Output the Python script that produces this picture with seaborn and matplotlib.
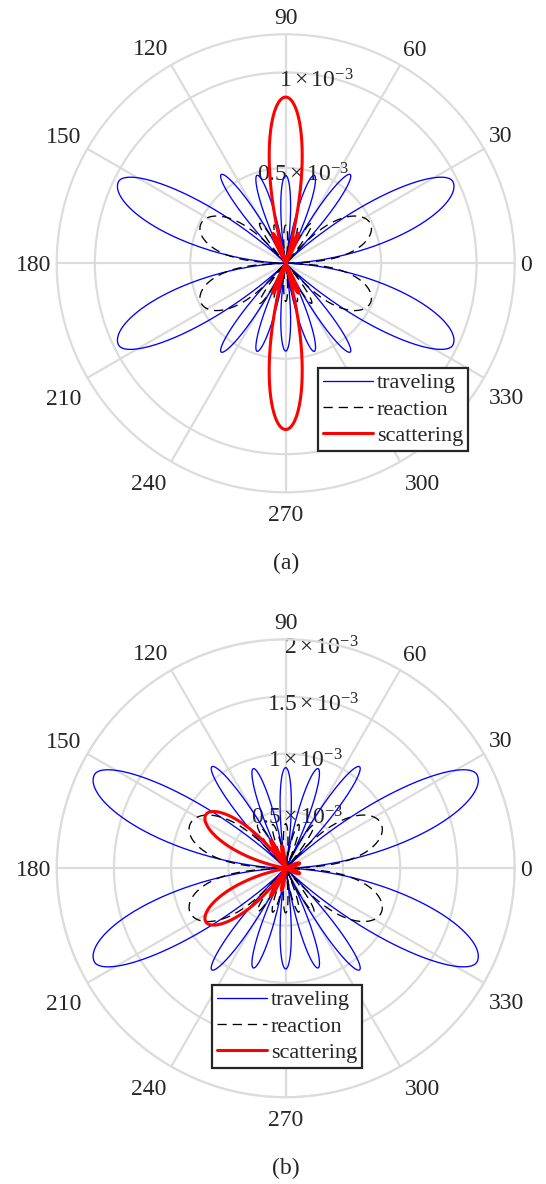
import numpy as np
import matplotlib
matplotlib.use("Agg")
import matplotlib.pyplot as plt
import seaborn as sns
from matplotlib.transforms import offset_copy

# ---------------- data (radius in units of 1e-3) ----------------
# each lobe: peak direction (deg), peak value, span from lower null to peak (deg),
# span from peak to upper null (deg), sharpness of the lobe
# panel (a)
TRAV_A_DEG  = [26, 54, 72, 90, 108, 126, 154, 206, 234, 252, 270, 288, 306, 334]
TRAV_A_PEAK = [0.975, 0.575, 0.485, 0.46, 0.485, 0.575, 0.975,
               0.975, 0.575, 0.485, 0.46, 0.485, 0.575, 0.975]
TRAV_A_LO   = [26, 9, 9, 9, 9, 9, 19, 26, 9, 9, 9, 9, 9, 19]
TRAV_A_HI   = [19, 9, 9, 9, 9, 9, 26, 19, 9, 9, 9, 9, 9, 26]
TRAV_A_K    = [1.5, 1, 1, 1, 1, 1, 1.5, 1.5, 1, 1, 1, 1, 1, 1.5]

REAC_A_DEG  = [25, 57, 73.5, 90, 106.5, 123, 155, 205, 237, 253.5, 270, 286.5, 303, 335]
REAC_A_PEAK = [0.49, 0.25, 0.21, 0.20, 0.21, 0.25, 0.49,
               0.49, 0.25, 0.21, 0.20, 0.21, 0.25, 0.49]
REAC_A_LO   = [23, 8.25, 8.25, 8.25, 8.25, 8.25, 23, 23, 8.25, 8.25, 8.25, 8.25, 8.25, 23]
REAC_A_HI   = [23, 8.25, 8.25, 8.25, 8.25, 8.25, 23, 23, 8.25, 8.25, 8.25, 8.25, 8.25, 23]
REAC_A_K    = [0.5, 1, 1, 1, 1, 1, 0.5, 0.5, 1, 1, 1, 1, 1, 0.5]

SCAT_A_DEG  = [67, 90, 113, 247, 270, 293]
SCAT_A_PEAK = [0.17, 0.871, 0.17, 0.17, 0.871, 0.17]
SCAT_A_LO   = [6, 16, 6, 6, 16, 6]
SCAT_A_HI   = [6, 16, 6, 6, 16, 6]
SCAT_A_K    = [1, 1, 1, 1, 1, 1]

# panel (b)
TRAV_B_DEG  = [26, 54, 72, 90, 108, 126, 154, 206, 234, 252, 270, 288, 306, 334]
TRAV_B_PEAK = [1.86, 1.097, 0.915, 0.879, 0.915, 1.097, 1.86,
               1.86, 1.097, 0.915, 0.879, 0.915, 1.097, 1.86]
TRAV_B_LO   = [26, 9, 9, 9, 9, 9, 19, 26, 9, 9, 9, 9, 9, 19]
TRAV_B_HI   = [19, 9, 9, 9, 9, 9, 26, 19, 9, 9, 9, 9, 9, 26]
TRAV_B_K    = [1.5, 1, 1, 1, 1, 1, 1.5, 1.5, 1, 1, 1, 1, 1, 1.5]

REAC_B_DEG  = [25, 57, 73.5, 90, 106.5, 123, 155, 205, 237, 253.5, 270, 286.5, 303, 335]
REAC_B_PEAK = [0.92, 0.45, 0.40, 0.39, 0.40, 0.45, 0.92,
               0.92, 0.45, 0.40, 0.39, 0.40, 0.45, 0.92]
REAC_B_LO   = [23, 8.25, 8.25, 8.25, 8.25, 8.25, 23, 23, 8.25, 8.25, 8.25, 8.25, 8.25, 23]
REAC_B_HI   = [23, 8.25, 8.25, 8.25, 8.25, 8.25, 23, 23, 8.25, 8.25, 8.25, 8.25, 8.25, 23]
REAC_B_K    = [0.5, 1, 1, 1, 1, 1, 0.5, 0.5, 1, 1, 1, 1, 1, 0.5]

SCAT_B_DEG  = [20, 100, 118, 146, 214, 242, 260, 340]
SCAT_B_PEAK = [0.13, 0.20, 0.28, 0.84, 0.84, 0.28, 0.20, 0.13]
SCAT_B_LO   = [12, 6, 6, 22, 23, 6, 6, 12]
SCAT_B_HI   = [12, 6, 6, 23, 22, 6, 6, 12]
SCAT_B_K    = [1, 1, 1, 1, 1, 1, 1, 1]

RMAX = [1.2, 2.0]
RTICKS = [[0.5, 1.0], [0.5, 1.0, 1.5, 2.0]]
RTICK_LABELS = [[r"$0.5\times10^{-3}$", r"$1\times10^{-3}$"],
                [r"$0.5\times10^{-3}$", r"$1\times10^{-3}$",
                 r"$1.5\times10^{-3}$", r"$2\times10^{-3}$"]]
ANGLE_LABELS = ["0", "30", "60", "90", "120", "150",
                "180", "210", "240", "270", "300", "330"]
SERIES_NAMES = ["traveling", "reaction", "scattering"]
CAPTIONS = ["(a)", "(b)"]

# ---------------- style ----------------
sns.set_theme(style="white")
plt.rcParams["font.family"] = ["Liberation Serif", "DejaVu Serif"]
plt.rcParams["mathtext.fontset"] = "custom"
plt.rcParams["mathtext.rm"] = "Liberation Serif"
plt.rcParams["mathtext.it"] = "Liberation Serif:italic"
plt.rcParams["mathtext.bf"] = "Liberation Serif:bold"

TXT = "#262626"
GRID = "#dcdcdc"
FS = 17
FS_LEG = 16

# label placement around the rim: (direction deg, radius factor of rmax)
LABEL_POS = [(0, 1.048), (31, 1.095), (59, 1.098), (90, 1.079), (122, 1.113),
             (150, 1.118), (180, 1.103), (211, 1.13), (238, 1.128), (270, 1.092),
             (302, 1.125), (329, 1.125)]

theta_deg = np.linspace(0.0, 360.0, 7201)


def lobes(deg, peak, lo, hi, k):
    r = np.zeros_like(theta_deg)
    for c, a, wl, wh, kk in zip(deg, peak, lo, hi, k):
        d = theta_deg - c
        m1 = (d >= -wl) & (d <= 0)
        m2 = (d > 0) & (d <= wh)
        r[m1] += a * np.sin(np.pi / 2 * (d[m1] + wl) / wl) ** kk
        r[m2] += a * np.sin(np.pi / 2 * (wh - d[m2]) / wh) ** kk
    return r * 1e-3


panels = [
    [(TRAV_A_DEG, TRAV_A_PEAK, TRAV_A_LO, TRAV_A_HI, TRAV_A_K),
     (REAC_A_DEG, REAC_A_PEAK, REAC_A_LO, REAC_A_HI, REAC_A_K),
     (SCAT_A_DEG, SCAT_A_PEAK, SCAT_A_LO, SCAT_A_HI, SCAT_A_K)],
    [(TRAV_B_DEG, TRAV_B_PEAK, TRAV_B_LO, TRAV_B_HI, TRAV_B_K),
     (REAC_B_DEG, REAC_B_PEAK, REAC_B_LO, REAC_B_HI, REAC_B_K),
     (SCAT_B_DEG, SCAT_B_PEAK, SCAT_B_LO, SCAT_B_HI, SCAT_B_K)],
]

W, H = 546, 1184
fig = plt.figure(figsize=(W / 100, H / 100), dpi=100, facecolor="white")

centers = [(285.7, 263.3), (285.7, 868.3)]
R_PX = 229.0
legend_ul = [(318, 368), (212, 985)]
caption_y = [561, 1166]

styles = [dict(color="#0000ff", lw=0.95, linestyle="-"),
          dict(color="black", lw=0.95, linestyle=(0, (7.0, 4.5))),
          dict(color="#ff0000", lw=2.2, linestyle="-")]

for p in range(2):
    cx, cy = centers[p]
    ax = fig.add_axes([(cx - R_PX) / W, 1 - (cy + R_PX) / H, 2 * R_PX / W, 2 * R_PX / H],
                      projection="polar")
    rmax = RMAX[p] * 1e-3
    th = np.deg2rad(theta_deg)
    for (spec, name, st) in zip(panels[p], SERIES_NAMES, styles):
        r = lobes(*spec)
        sns.lineplot(x=th, y=r, ax=ax, sort=False, estimator=None, label=name,
                     legend=False, zorder=3, **st)
    ax.set_ylim(0, rmax)
    ax.set_thetagrids(np.arange(0, 360, 30), labels=[""] * 12)
    rt = [v * 1e-3 for v in RTICKS[p]]
    ax.set_rgrids(rt, labels=[""] * len(rt))
    ax.grid(True, color=GRID, lw=1.6, linestyle="-")
    ax.spines["polar"].set_color(GRID)
    ax.spines["polar"].set_linewidth(1.6)
    ax.set_xlabel("")
    ax.set_ylabel("")
    ax.set_facecolor("white")

    # angle labels
    for lab, (ang, fac) in zip(ANGLE_LABELS, LABEL_POS):
        ax.text(np.deg2rad(ang), fac * rmax, lab, ha="center", va="center_baseline",
                fontsize=FS, color=TXT, clip_on=False)
    # radial labels at 82 degrees
    tr = offset_copy(ax.transData, fig=fig, x=4, y=-13, units="dots")
    for v, lab in zip(RTICKS[p], RTICK_LABELS[p]):
        ax.text(np.deg2rad(82), v * 1e-3, lab, transform=tr, ha="center", va="baseline",
                fontsize=FS, color=TXT, zorder=2)

    lx, ly = legend_ul[p]
    leg = ax.legend(loc="upper left", bbox_to_anchor=(lx / W, 1 - ly / H),
                    bbox_transform=fig.transFigure, borderaxespad=0, fontsize=FS_LEG,
                    handlelength=2.25, handletextpad=0.18, labelspacing=0.25,
                    borderpad=0.22, fancybox=False, framealpha=1, edgecolor=TXT)
    leg.get_frame().set_linewidth(1.6)
    for t in leg.get_texts():
        t.set_color(TXT)

    fig.text(cx / W, 1 - caption_y[p] / H, CAPTIONS[p], ha="center",
             va="center_baseline", fontsize=FS, color=TXT)

fig.savefig("out.png", dpi=100, facecolor="white")
